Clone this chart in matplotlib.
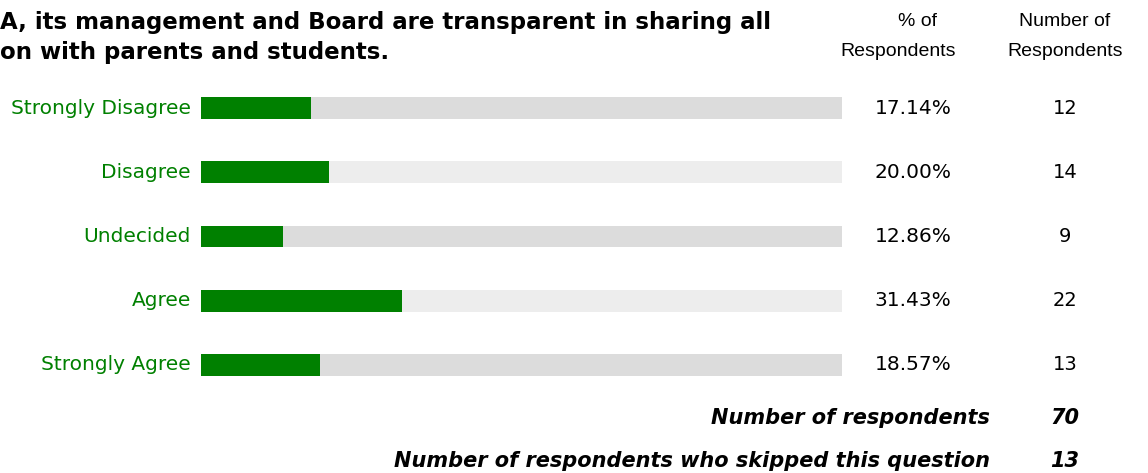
import matplotlib
matplotlib.use("Agg")
import matplotlib.pyplot as plt

# survey answers
categories = ["Strongly Disagree", "Disagree", "Undecided", "Agree", "Strongly Agree"]
percents = [17.14, 20.00, 12.86, 31.43, 18.57]
counts = [12, 14, 9, 22, 13]
answered = 70
skipped = 13

title_lines = ["A, its management and Board are transparent in sharing all",
               "on with parents and students."]

W, H = 1148, 473
fig = plt.figure(figsize=(W / 100, H / 100), dpi=100)
plt.rcParams['font.family'] = ['DejaVu Sans']

green = "#008000"
bg_colors = ["#dcdcdc", "#ededed"]

# bar area in pixels: x 201..842, rows from y 76 to 397
ax = fig.add_axes([201 / W, 1 - 397 / H, 641 / W, 321 / H])
ax.set_xlim(0, 100)
ax.set_ylim(len(categories) - 0.5, -0.5)
ax.axis("off")

ys = list(range(len(categories)))
ax.barh(ys, [100] * len(ys), height=0.34,
        color=[bg_colors[i % 2] for i in ys], linewidth=0)
ax.barh(ys, percents, height=0.34, color=green, linewidth=0)

for i, (cat, p, c) in enumerate(zip(categories, percents, counts)):
    ax.text(-1.6, i, cat, ha="right", va="center", color=green,
            fontsize=14.5, clip_on=False)
    ax.text(111.1, i, "%.2f%%" % p, ha="center", va="center",
            fontsize=14.5, clip_on=False)
    ax.text(134.8, i, str(c), ha="center", va="center",
            fontsize=14, clip_on=False)

# title (cut off on the left as in the source)
fig.text(0, 1 - 22 / H, title_lines[0], ha="left", va="center",
         fontsize=16.5, fontweight="bold")
fig.text(0, 1 - 52 / H, title_lines[1], ha="left", va="center",
         fontsize=16.5, fontweight="bold")

# column headers
hs = 14
hf = "Liberation Sans"
fig.text(917 / W, 1 - 22 / H, "% of", ha="center", va="center", fontsize=hs, family=hf)
fig.text(898 / W, 1 - 51 / H, "Respondents", ha="center", va="center", fontsize=hs, family=hf)
fig.text(1065 / W, 1 - 22 / H, "Number of", ha="center", va="center", fontsize=hs, family=hf)
fig.text(1065 / W, 1 - 51 / H, "Respondents", ha="center", va="center", fontsize=hs, family=hf)

# footer
fs = 15
fig.text(990 / W, 1 - 418 / H, "Number of respondents", ha="right", va="center",
         fontsize=fs, fontweight="bold", style="italic")
fig.text(1065 / W, 1 - 418 / H, str(answered), ha="center", va="center",
         fontsize=fs, fontweight="bold", style="italic")
fig.text(990 / W, 1 - 461 / H, "Number of respondents who skipped this question",
         ha="right", va="center", fontsize=fs, fontweight="bold", style="italic")
fig.text(1065 / W, 1 - 461 / H, str(skipped), ha="center", va="center",
         fontsize=fs, fontweight="bold", style="italic")

fig.savefig("out.png", dpi=100)
